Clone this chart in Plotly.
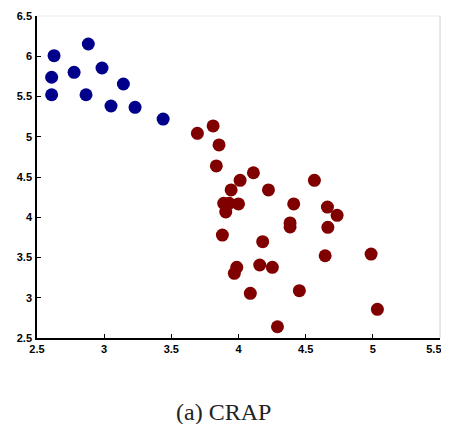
import plotly.graph_objects as go

blue_x = [2.627, 2.882, 2.609, 2.609, 2.776, 2.865, 2.984, 3.143, 3.051, 3.230, 3.439]
blue_y = [6.007, 6.152, 5.739, 5.522, 5.800, 5.522, 5.854, 5.655, 5.382, 5.366, 5.220]

red_x = [3.694, 3.811, 3.855, 3.835, 4.111, 4.012, 3.945, 4.223, 4.565, 3.890, 3.930,
         4.000, 3.905, 4.411, 4.662, 4.734, 4.384, 4.384, 4.665, 3.880, 4.180, 4.645,
         4.987, 3.987, 3.969, 4.158, 4.252, 4.453, 4.088, 5.034, 4.290]
red_y = [5.043, 5.134, 4.898, 4.637, 4.553, 4.459, 4.339, 4.339, 4.459, 4.173, 4.173,
         4.165, 4.065, 4.165, 4.127, 4.024, 3.930, 3.880, 3.875, 3.779, 3.696, 3.522,
         3.543, 3.378, 3.304, 3.407, 3.378, 3.088, 3.055, 2.856, 2.640]

x_ticks = [2.5, 3, 3.5, 4, 4.5, 5, 5.5]
x_tick_labels = ["2.5", "3", "3.5", "4", "4.5", "5", "5.5\u00a0\u00a0\u00a0\u00a0"]
y_ticks = [2.5, 3, 3.5, 4, 4.5, 5, 5.5, 6, 6.5]
y_tick_labels = ["2.5", "3", "3.5", "4", "4.5", "5", "5.5", "6", "6.5"]

fig = go.Figure()
fig.add_trace(go.Scatter(x=blue_x, y=blue_y, mode="markers",
                         marker=dict(color="#00008B", size=13, line=dict(width=0))))
fig.add_trace(go.Scatter(x=red_x, y=red_y, mode="markers",
                         marker=dict(color="#800000", size=13, line=dict(width=0))))

tickfont = dict(family="Liberation Sans, Arial", size=11, color="black", weight="bold")
fig.update_layout(
    width=441, height=416,
    margin=dict(l=29, r=9, t=8, b=86, autoexpand=False),
    paper_bgcolor="white", plot_bgcolor="white",
    showlegend=False,
    xaxis=dict(range=[2.5, 5.5], tickvals=x_ticks, ticktext=x_tick_labels,
               showgrid=False, zeroline=False, showline=True, linecolor="black",
               linewidth=1.5, ticks="inside", ticklen=4, tickcolor="black",
               tickfont=tickfont, ticklabelstandoff=0, automargin=False,
               ticklabeloverflow="allow"),
    yaxis=dict(range=[2.5, 6.5], tickvals=y_ticks, ticktext=y_tick_labels,
               showgrid=False, zeroline=False, showline=True, linecolor="black",
               linewidth=1.5, ticks="inside", ticklen=4, tickcolor="black",
               tickfont=tickfont, ticklabelstandoff=1, automargin=False,
               ticklabeloverflow="allow"),
    shapes=[
        dict(type="line", xref="paper", yref="paper", x0=0, x1=1, y0=1, y1=1,
             line=dict(color="#ececec", width=1)),
        dict(type="line", xref="paper", yref="paper", x0=1, x1=1, y0=0, y1=1,
             line=dict(color="#d0d0d0", width=1)),
    ],
    annotations=[dict(text="(a) CRAP", xref="paper", yref="paper", x=0.463, y=-0.23,
                      yanchor="middle", showarrow=False,
                      font=dict(family="Liberation Serif, Times New Roman", size=24, color="#222"))],
)
fig.write_html("out.html")
